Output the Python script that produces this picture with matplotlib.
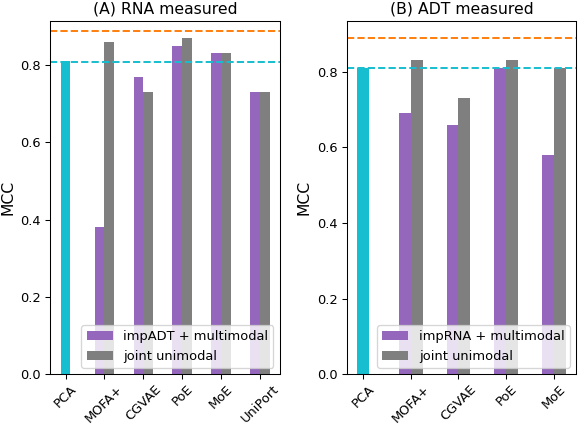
import matplotlib
matplotlib.use("Agg")
import matplotlib.pyplot as plt
import numpy as np

# (A) RNA measured
methods_a = ["PCA", "MOFA+", "CGVAE", "PoE", "MoE", "UniPort"]
imp_a = [0.38, 0.77, 0.85, 0.83, 0.73]
joint_a = [0.86, 0.73, 0.87, 0.83, 0.73]

# (B) ADT measured
methods_b = ["PCA", "MOFA+", "CGVAE", "PoE", "MoE"]
imp_b = [0.69, 0.66, 0.81, 0.58]
joint_b = [0.83, 0.73, 0.83, 0.81]

pca_score = 0.81
upper_ref = 0.889
pca_ref = 0.809

W = 0.25
DPI = 94


def draw_panel(ax, methods, imp, joint, imp_label, title):
    x = np.arange(len(methods))
    ax.bar(x[0], pca_score, W, color="tab:cyan")
    ax.bar(x[1:] - W / 2, imp, W, color="tab:purple", label=imp_label)
    ax.bar(x[1:] + W / 2, joint, W, color="tab:gray", label="joint unimodal")
    ax.axhline(upper_ref, color="tab:orange", linestyle="--")
    ax.axhline(pca_ref, color="tab:cyan", linestyle="--")
    ax.set_xticks(x)
    ax.set_xticklabels(methods, rotation=45)
    ax.tick_params(axis="x", pad=2.5)
    ax.set_ylabel("MCC", fontsize=12)
    ax.set_title(title, fontsize=12)
    ax.legend(loc="lower right", fontsize=10)


fig, (ax1, ax2) = plt.subplots(1, 2, figsize=(578 / DPI, 424 / DPI), dpi=DPI)
draw_panel(ax1, methods_a, imp_a, joint_a, "impADT + multimodal", "(A) RNA measured")
draw_panel(ax2, methods_b, imp_b, joint_b, "impRNA + multimodal", "(B) ADT measured")
fig.subplots_adjust(left=0.087, right=0.997, bottom=0.117, top=0.95, wspace=0.29)
fig.savefig("out.png", dpi=DPI)
